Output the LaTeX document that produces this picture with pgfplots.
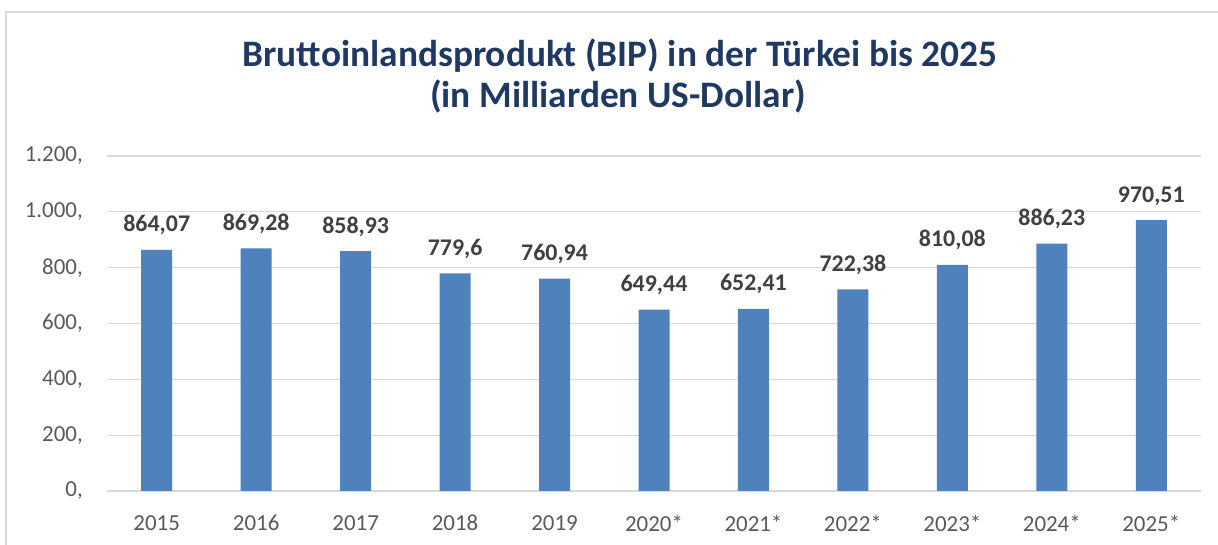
\documentclass[border=0pt]{standalone}
\usepackage{pgfplots}
\usepackage{pgfplotstable}
\usepackage{fontspec}
\setmainfont{Carlito}
\pgfplotsset{compat=1.18}

\definecolor{barblue}{HTML}{4F81BD}
\definecolor{titlenavy}{HTML}{1F3864}
\definecolor{labelgray}{HTML}{404040}
\definecolor{tickgray}{HTML}{595959}
\definecolor{gridgray}{HTML}{D9D9D9}

\pgfplotstableread{
x y label
0 864.07 864,07
1 869.28 869,28
2 858.93 858,93
3 779.6 779,6
4 760.94 760,94
5 649.44 649,44
6 652.41 652,41
7 722.38 722,38
8 810.08 810,08
9 886.23 886,23
10 970.51 970,51
}\bipdata

\begin{document}
\begin{tikzpicture}[x=1bp,y=1bp]
% frame of the chart area (only left and top edge are visible)
\draw[gridgray,line width=1.2bp] (-101,-54) -- (-101,479) -- (1111,479);

\begin{axis}[
  at={(0,0)},anchor=south west,
  scale only axis,
  width=1094bp,
  height=335bp,
  ybar,
  bar width=31bp,
  xmin=-0.5, xmax=10.5,
  ymin=0, ymax=1200,
  xtick={0,...,10},
  xticklabels={2015,2016,2017,2018,2019,2020*,2021*,2022*,2023*,2024*,2025*},
  ytick={0,200,...,1200},
  yticklabels={{0,},{200,},{400,},{600,},{800,},{1.000,},{1.200,}},
  major tick length=0pt,
  axis line style={draw=none},
  ymajorgrids,
  grid style={gridgray,line width=1.2bp},
  ticklabel style={font=\fontsize{23}{27}\selectfont,text=tickgray},
  xticklabel style={anchor=north,inner sep=0pt,yshift=-24bp},
  yticklabel style={anchor=east,inner sep=0pt,xshift=-24bp},
  nodes near coords,
  point meta=explicit symbolic,
  every node near coord/.append style={font=\bfseries\fontsize{24}{28}\selectfont,
    text=labelgray,anchor=base,inner sep=0pt,yshift=18bp},
]
\addplot[fill=barblue,draw=none] table[x=x,y=y,meta=label] {\bipdata};
\end{axis}

\node[anchor=base,font=\bfseries\fontsize{37.5}{42}\selectfont,text=titlenavy]
  at (513,424) {Bruttoinlandsprodukt (BIP) in der Türkei bis 2025};
\node[anchor=base,font=\bfseries\fontsize{37.5}{42}\selectfont,text=titlenavy]
  at (511,383) {(in Milliarden US-Dollar)};

\pgfresetboundingbox
\path[use as bounding box] (-107,-54) rectangle (1111,491);
\end{tikzpicture}
\end{document}
